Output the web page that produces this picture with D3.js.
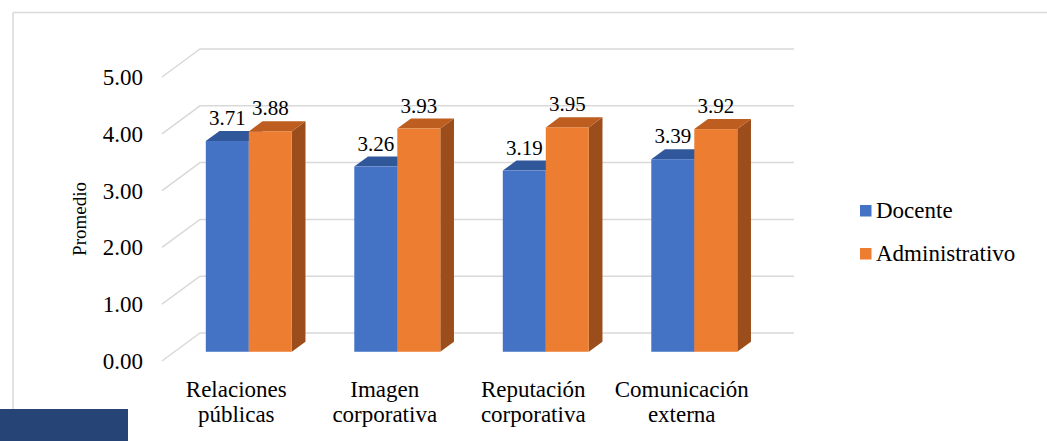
<!DOCTYPE html>
<html>
<head>
<meta charset="utf-8">
<script src="https://cdn.jsdelivr.net/npm/d3@7"></script>
</head>
<body style="margin:0">
<svg id="chart" width="1047" height="441"></svg>
<script>
// Promedio por dimensión y tipo de personal
const categories = [["Relaciones", "públicas"], ["Imagen", "corporativa"], ["Reputación", "corporativa"], ["Comunicación", "externa"]];
const series = ["Docente", "Administrativo"];
const docente = [3.71, 3.26, 3.19, 3.39];
const administrativo = [3.88, 3.93, 3.95, 3.92];
const tickValues = [0, 1, 2, 3, 4, 5];

const colors = {
  Docente: { front: "#4472C4", top: "#31579B", side: "#2E5391" },
  Administrativo: { front: "#ED7D31", top: "#BD5E20", side: "#9B4E1C" }
};

const svg = d3.select("#chart");

// All chart text uses a serif face
const txt = (parent) => parent.append("text").style("font-family", "serif").attr("fill", "#000");

// Oblique 3D projection: depth z in [0,1] shifts points right and up
const depth = { dx: 38, dy: -28 };
const proj = (x, y, z) => [x + depth.dx * z, y + depth.dy * z];

const catKeys = categories.map(c => c.join(" "));
const x0 = d3.scaleBand().domain(catKeys).range([162, 756]);
const x1 = d3.scaleBand().domain(series).range([31.25, 117.25]);
const y = d3.scaleLinear().domain([0, 5]).range([361, 77]);

// Chart frame
const frame = svg.append("g").attr("stroke", "#D9D9D9").attr("stroke-width", 1.5).attr("fill", "none");
frame.append("line").attr("x1", 13).attr("y1", 12.5).attr("x2", 1047).attr("y2", 12.5);
frame.append("line").attr("x1", 13).attr("y1", 12.5).attr("x2", 13).attr("y2", 409);

// Gridlines: side wall diagonals + back wall horizontals
const grid = svg.append("g").attr("stroke", "#D9D9D9").attr("stroke-width", 1.5).attr("fill", "none");
tickValues.forEach(v => {
  const a = proj(x0.range()[0], y(v), 0);
  const b = proj(x0.range()[0], y(v), 1);
  const c = proj(x0.range()[1], y(v), 1);
  grid.append("path").attr("d", `M${a[0]},${a[1]}L${b[0]},${b[1]}L${c[0]},${c[1]}`);
});

// Y tick labels
const tickG = svg.append("g");
tickValues.forEach(v => {
  txt(tickG)
    .attr("x", 143).attr("y", y(v) + 8)
    .attr("text-anchor", "end")
    .attr("font-size", 23)
    .text(d3.format(".2f")(v));
});

// Y axis title
txt(svg)
  .attr("transform", "translate(86,219) rotate(-90)")
  .attr("text-anchor", "middle")
  .attr("font-size", 19)
  .text("Promedio");

// Bars (3D boxes)
const z0 = 0.33, z1 = 0.69;
const values = { Docente: docente, Administrativo: administrativo };
const barsG = svg.append("g");
const labelsG = svg.append("g");
const poly = pts => "M" + pts.map(p => p.join(",")).join("L") + "Z";

catKeys.forEach((cat, i) => {
  series.forEach(s => {
    const v = values[s][i];
    const xl = x0(cat) + x1(s);
    const xr = xl + x1.bandwidth();
    const yt = y(v), yb = y(0);
    const c = colors[s];
    // side face
    barsG.append("path").attr("fill", c.side)
      .attr("d", poly([proj(xr, yt, z0), proj(xr, yt, z1), proj(xr, yb, z1), proj(xr, yb, z0)]));
    // top face
    barsG.append("path").attr("fill", c.top)
      .attr("d", poly([proj(xl, yt, z0), proj(xl, yt, z1), proj(xr, yt, z1), proj(xr, yt, z0)]));
    // front face
    const f0 = proj(xl, yt, z0), f1 = proj(xr, yb, z0);
    barsG.append("rect").attr("fill", c.front)
      .attr("x", f0[0]).attr("y", f0[1])
      .attr("width", f1[0] - f0[0]).attr("height", f1[1] - f0[1]);
    // value label
    txt(labelsG)
      .attr("x", (f0[0] + f1[0]) / 2).attr("y", f0[1] - 16)
      .attr("text-anchor", "middle")
      .attr("font-size", 21)
      .text(d3.format(".2f")(v));
  });
});

// Category labels
const catG = svg.append("g");
categories.forEach((lines, i) => {
  const cx = x0(catKeys[i]) + x0.bandwidth() / 2;
  lines.forEach((ln, j) => {
    txt(catG)
      .attr("text-anchor", "middle").attr("font-size", 23)
      .attr("x", cx).attr("y", 397 + j * 25).text(ln);
  });
});

// Legend
const legend = svg.append("g");
series.forEach((s, i) => {
  const ly = 205 + i * 43;
  legend.append("rect").attr("x", 860).attr("y", ly).attr("width", 11.5).attr("height", 11.5)
    .attr("fill", colors[s].front);
  txt(legend)
    .attr("x", 876).attr("y", ly + 13)
    .attr("font-size", 23)
    .text(s);
});

// Footer band
svg.append("rect").attr("x", 0).attr("y", 409).attr("width", 128).attr("height", 32).attr("fill", "#264476");
</script>
</body>
</html>
